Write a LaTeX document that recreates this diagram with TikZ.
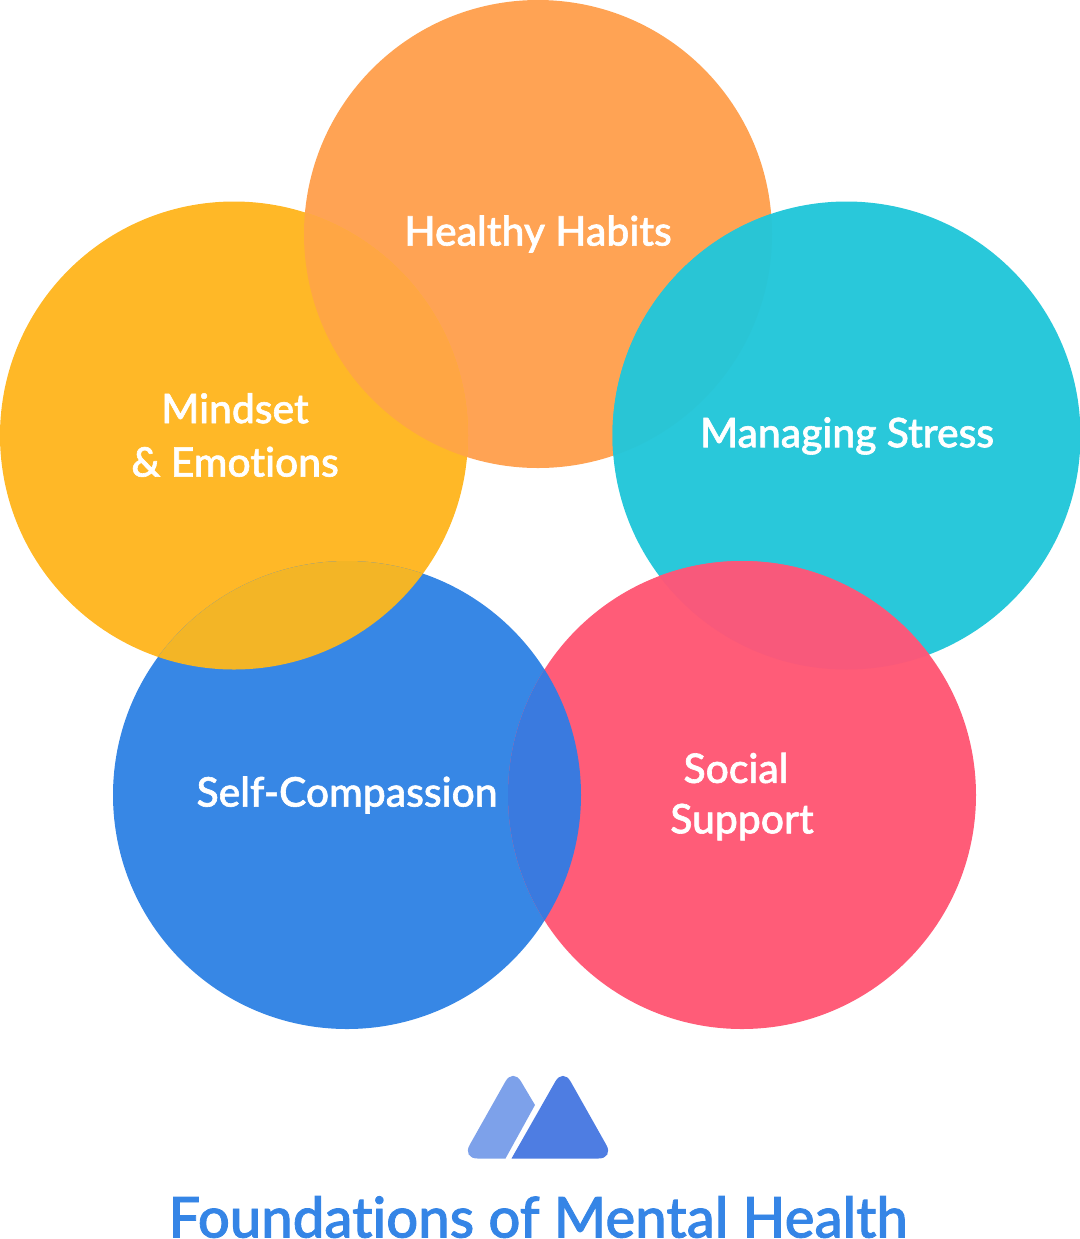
\documentclass[tikz,border=0pt]{standalone}
\usepackage{fontspec}
\setmainfont{Lato Medium}[Ligatures=NoCommon, FakeBold=1.5]
\usepackage{tikz}

\definecolor{orangeC}{HTML}{FFA354}
\definecolor{yellowC}{HTML}{FFB827}
\definecolor{tealC}{HTML}{29C8DA}
\definecolor{pinkC}{HTML}{FF5C78}
\definecolor{blueC}{HTML}{3787E5}
\definecolor{orangeYellow}{HTML}{FFA644}
\definecolor{tealOrange}{HTML}{29C5D5}
\definecolor{pinkTeal}{HTML}{F8597B}
\definecolor{bluePink}{HTML}{3A7ADF}
\definecolor{yellowBlue}{HTML}{F3B526}
\definecolor{logoDark}{HTML}{4E7DE2}
\definecolor{logoLight}{HTML}{7DA1EA}
\definecolor{titleC}{HTML}{3585E6}

\begin{document}
\begin{tikzpicture}[x=0.025cm, y=-0.025cm,
        every node/.style={inner sep=0pt, outer sep=0pt},
        label/.style={text=white, font=\fontsize{29}{38}\selectfont, align=center}]
        \useasboundingbox (0, 0) rectangle (1080, 1239);

        \fill[orangeC] (538, 234) circle (234);
        \fill[yellowC] (234, 435.5) circle (234);
        \fill[tealC] (846.5, 435.5) circle (234);
        \fill[blueC] (347, 795) circle (234);
        \fill[pinkC] (742, 795) circle (234);

        \begin{scope}
            \clip (538, 234) circle (234);
            \fill[orangeYellow] (234, 435.5) circle (234);
            \fill[tealOrange] (846.5, 435.5) circle (234);
        \end{scope}
        \begin{scope}
            \clip (742, 795) circle (234);
            \fill[pinkTeal] (846.5, 435.5) circle (234);
            \fill[bluePink] (347, 795) circle (234);
        \end{scope}
        \begin{scope}
            \clip (234, 435.5) circle (234);
            \fill[yellowBlue] (347, 795) circle (234);
        \end{scope}

        \node[label] (habits) at (538, 234) {Healthy Habits};
        \node[label] (mindset) at (235, 435) {Mindset\\\& Emotions};
        \node[label] (stress) at (847, 436) {Managing Stress};
        \node[label] (compassion) at (347, 795) {Self-Compassion};
        \node[label] (social) at (736, 768) {Social};
        \node[label] (support) at (742, 822) {Support};

        \fill[logoLight] (535, 1105) [rounded corners=11] -- (513, 1068) -- (462, 1158.5) [sharp corners] -- (505.5, 1158.5) -- cycle;
        \fill[logoDark] (511.5, 1158.5) [rounded corners=11] -- (563, 1068) -- (614, 1158.5) [sharp corners] -- cycle;

        \node[text=titleC, font=\fontsize{40}{48}\selectfont] (title) at (538, 1217) {Foundations of Mental Health};
\end{tikzpicture}
\end{document}
